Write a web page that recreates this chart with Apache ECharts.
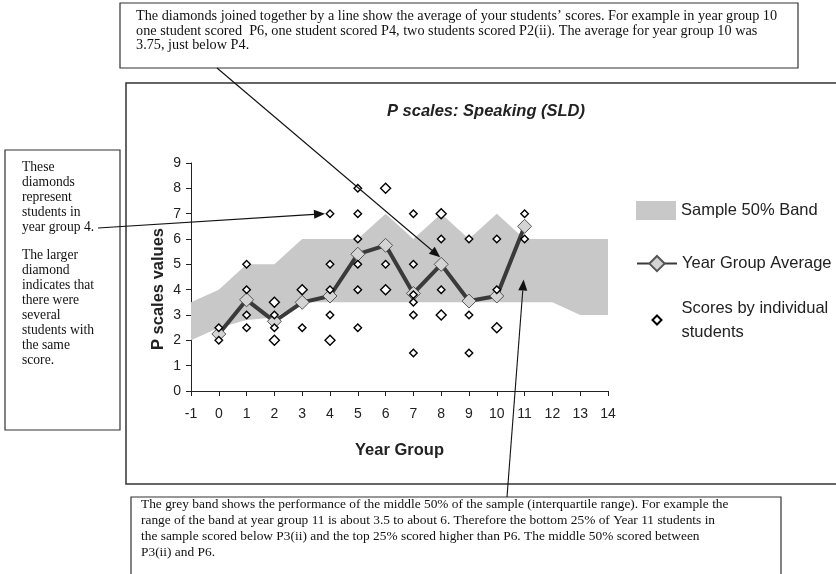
<!DOCTYPE html>
<html>
<head>
<meta charset="utf-8">
<script src="https://cdn.jsdelivr.net/npm/echarts@6/dist/echarts.min.js"></script>
<style>
html,body{margin:0;padding:0;background:#fff;}
#chart{width:836px;height:574px;}
</style>
</head>
<body>
<div id="chart"></div>
<script>
// ---- data ----
const years = ['-1','0','1','2','3','4','5','6','7','8','9','10','11','12','13','14'];
const yTicks = [0,1,2,3,4,5,6,7,8,9];
const bandLower = [2, 2.5, 2.8, 2.9, 3.5, 3.5, 3.5, 3.5, 3.5, 3.5, 3.5, 3.5, 3.5, 3.5, 3, 3];
const bandUpper = [3.5, 4, 5, 5, 6, 6, 6, 7, 6, 7, 6, 7, 6, 6, 6, 6];
const yearAverage = [null, 2.25, 3.6, 2.75, 3.5, 3.75, 5.4, 5.75, 3.85, 5, 3.55, 3.75, 6.5, null, null, null];
// individual scores: [year, score, number of students]
const individualScores = [
  ['0',2.5,1],['0',2,1],
  ['1',5,1],['1',4,1],['1',3,1],['1',2.5,1],
  ['2',3.5,2],['2',3,1],['2',2.5,1],['2',2,2],
  ['3',4,2],['3',2.5,1],
  ['4',7,1],['4',5,1],['4',4,1],['4',3,1],['4',2,2],
  ['5',8,1],['5',7,1],['5',6,1],['5',5,1],['5',4,1],['5',2.5,1],
  ['6',8,2],['6',5,1],['6',4,2],
  ['7',7,1],['7',5,1],['7',3.8,1],['7',3.5,1],['7',3,1],['7',1.5,1],
  ['8',7,2],['8',6,1],['8',4,1],['8',3,2],
  ['9',6,1],['9',3,1],['9',1.5,1],
  ['10',6,1],['10',4,1],['10',2.5,2],
  ['11',7,1],['11',6,1]
];
const titleText = 'P scales: Speaking (SLD)';
const xName = 'Year Group';
const yName = 'P scales values';
const legendBand = 'Sample 50% Band';
const legendAvg = 'Year Group Average';
const legendScores = 'Scores by individual\nstudents';
const topNote = [
  'The diamonds joined together by a line show the average of your students\u2019 scores. For example in year group 10',
  'one student scored  P6, one student scored P4, two students scored P2(ii). The average for year group 10 was',
  '3.75, just below P4.'
];
const leftNote = ['These','diamonds','represent','students in','year group 4.',null,'The larger','diamond','indicates that','there were','several','students with','the same','score.'];
const bottomNote = [
  'The grey band shows the performance of the middle 50% of the sample (interquartile range). For example the',
  'range of the band at year group 11 is about 3.5 to about 6. Therefore the bottom 25% of Year 11 students in',
  'the sample scored below P3(ii) and the top 25% scored higher than P6. The middle 50% scored between',
  'P3(ii) and P6.'
];

const bandDiff = bandUpper.map((u,i)=>u-bandLower[i]);
const SANS = 'Liberation Sans, Arial, sans-serif';
const SERIF = 'Liberation Serif, Times New Roman, serif';

const chart = echarts.init(document.getElementById('chart'), null, {renderer:'canvas'});

function noteGroup(x, y, w, h, lines, tx, ty, lh, fs, gap) {
  const children = [{type:'rect', shape:{x:x, y:y, width:w, height:h}, style:{fill:'#fff', stroke:'#333', lineWidth:1.2}}];
  let cy = ty;
  lines.forEach((t)=>{
    if (t === null) { cy += gap; return; }
    children.push({type:'text', x:tx, y:cy, style:{text:t, font:fs+'px '+SERIF, fill:'#111', verticalAlign:'middle'}});
    cy += lh;
  });
  return {type:'group', children:children, z:10};
}

const legendText = {fontFamily:SANS, fontSize:16.5, color:'#222'};
const option = {
  animation:false,
  backgroundColor:'#fff',
  title:{text:titleText, left:481, top:98, textAlign:'center',
    textStyle:{fontFamily:SANS, fontSize:16.5, fontWeight:'bold', fontStyle:'italic', color:'#222'}},
  grid:{left:191, right:228, top:163, bottom:183, containLabel:false},
  legend:[
    {data:[legendBand], orient:'vertical', left:636, top:201, padding:0, itemWidth:40, itemHeight:19, icon:'rect',
      textStyle:legendText},
    {data:[legendAvg], orient:'vertical', left:636, top:255, padding:0, itemWidth:40, itemHeight:19,
      textStyle:legendText},
    {data:[legendScores], orient:'vertical', left:651.5, top:284, padding:0, itemWidth:9, itemHeight:9,
      textStyle:Object.assign({}, legendText, {lineHeight:24, padding:[24,0,0,15]})}
  ],
  xAxis:{type:'category', data:years, boundaryGap:false,
    name:xName, nameLocation:'middle', nameGap:51,
    nameTextStyle:{fontFamily:SANS, fontSize:16.5, fontWeight:'bold', color:'#222'},
    axisLine:{lineStyle:{color:'#222', width:1}},
    axisTick:{show:true, length:5, lineStyle:{color:'#222'}},
    axisLabel:{fontFamily:SANS, fontSize:14, color:'#222', margin:16},
    splitLine:{show:false}},
  yAxis:{type:'value', min:0, max:9, interval:1,
    name:yName, nameLocation:'middle', nameGap:24, nameRotate:90,
    nameTextStyle:{fontFamily:SANS, fontSize:16.5, fontWeight:'bold', color:'#222', padding:[0,24,0,0]},
    axisLine:{show:true, lineStyle:{color:'#222', width:1}},
    axisTick:{show:true, length:5, lineStyle:{color:'#222'}},
    axisLabel:{fontFamily:SANS, fontSize:14, color:'#222', margin:10},
    splitLine:{show:false}},
  series:[
    {name:'bandBase', type:'line', data:bandLower, stack:'band', symbol:'none',
      lineStyle:{width:0, opacity:0}, silent:true, z:1},
    {name:legendBand, type:'line', data:bandDiff, stack:'band', symbol:'none',
      lineStyle:{width:0, opacity:0}, itemStyle:{color:'#c8c8c8'},
      areaStyle:{color:'#c8c8c8', opacity:1}, z:1},
    {name:legendAvg, type:'line', data:yearAverage, symbol:'diamond', symbolSize:14,
      lineStyle:{color:'#3a3a3a', width:4}, itemStyle:{color:'#d4d4d4', borderColor:'#555', borderWidth:1},
      z:3},
    {name:legendScores, type:'scatter', data:individualScores, symbol:'diamond',
      symbolSize:(v)=> v[2]>1 ? 10 : 7.5,
      itemStyle:{color:'#fff', borderColor:'#000', borderWidth:1.4, opacity:1}, z:4}
  ]
};
chart.setOption(option);

// annotations (boxes + arrows)
function arrow(x1,y1,x2,y2){
  const ang = Math.atan2(y2-y1, x2-x1), L = 11, W = 4.5;
  const bx = x2 - L*Math.cos(ang), by = y2 - L*Math.sin(ang);
  return [
    {type:'line', shape:{x1:x1,y1:y1,x2:bx,y2:by}, style:{stroke:'#111', lineWidth:1.1}, z:20},
    {type:'polygon', shape:{points:[[x2,y2],[bx+W*Math.sin(ang), by-W*Math.cos(ang)],[bx-W*Math.sin(ang), by+W*Math.cos(ang)]]}, style:{fill:'#111'}, z:20}
  ];
}
const pY4 = chart.convertToPixel({gridIndex:0}, ['4', 7]);
const pY8 = chart.convertToPixel({gridIndex:0}, ['8', 5]);
const pY11 = chart.convertToPixel({gridIndex:0}, ['11', 4.4]);
const graphics = [
  {type:'rect', shape:{x:126, y:83, width:720, height:401}, style:{fill:'none', stroke:'#333', lineWidth:1.5}, z:0, silent:true},
  noteGroup(120, 3, 678, 65, topNote, 136, 16.5, 14.5, 14.25),
  noteGroup(5, 150, 115, 280, leftNote, 22, 167, 15, 13.6, 13),
  noteGroup(131, 497, 650, 90, bottomNote, 141, 504, 16, 13.4)
];
graphics.push(...arrow(217, 68, pY8[0]-1, pY8[1]-7));
graphics.push(...arrow(98, 228, pY4[0]-5, pY4[1]));
graphics.push(...arrow(507, 497, pY11[0]-1, pY11[1]));
chart.setOption({graphic:graphics});
</script>
</body>
</html>
